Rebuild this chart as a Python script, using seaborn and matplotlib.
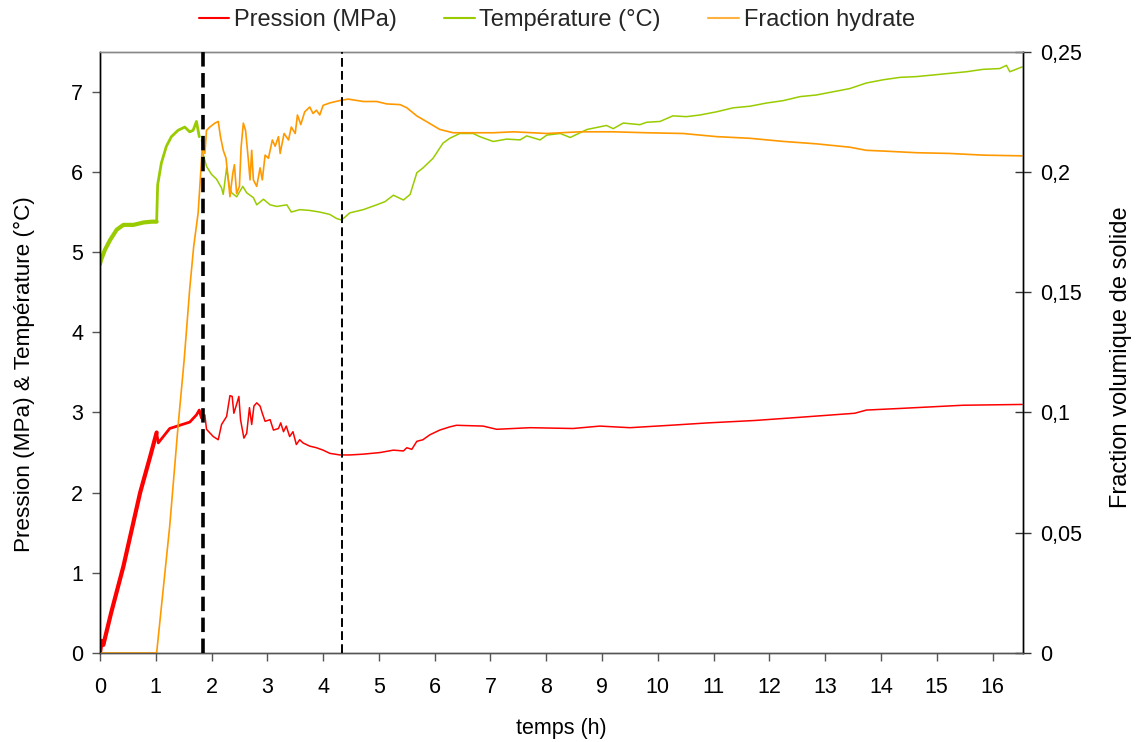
import numpy as np
import pandas as pd
import matplotlib
matplotlib.use("Agg")
import matplotlib.pyplot as plt
from matplotlib.lines import Line2D
from matplotlib.ticker import FuncFormatter
import seaborn as sns

# ---------------- data ----------------
pression_t = [0, 0.03, 0.06, 0.2, 0.42, 0.72, 0.9, 1.016, 1.045, 1.25,
              1.43, 1.61, 1.73, 1.78, 1.82, 1.88, 1.91, 2.03, 2.12, 2.18,
              2.27, 2.33, 2.37, 2.40, 2.44, 2.49, 2.52, 2.58, 2.63, 2.68,
              2.72, 2.76, 2.81, 2.87, 2.91, 2.96, 3.05, 3.11, 3.20, 3.24,
              3.29, 3.34, 3.40, 3.46, 3.52, 3.58, 3.64, 3.76, 3.88, 4.00,
              4.12, 4.30, 4.48, 4.72, 5.02, 5.26, 5.44, 5.50, 5.59, 5.68,
              5.79, 5.91, 6.09, 6.27, 6.39, 6.87, 7.11, 7.71, 8.48, 8.96,
              9.50, 10.22, 10.90, 11.74, 12.55, 13.53, 13.74, 14.34, 15.47, 16.53]
pression = [0, 0.15, 0.1, 0.5, 1.08, 2.0, 2.45, 2.75, 2.62, 2.80,
            2.84, 2.88, 2.97, 3.03, 2.93, 2.97, 2.79, 2.70, 2.66, 2.85,
            2.95, 3.21, 3.20, 2.99, 3.08, 3.20, 2.91, 2.68, 2.74, 3.06,
            2.85, 3.08, 3.12, 3.08, 2.99, 2.89, 2.91, 2.78, 2.80, 2.87,
            2.76, 2.83, 2.70, 2.76, 2.60, 2.66, 2.62, 2.58, 2.56, 2.53,
            2.49, 2.47, 2.47, 2.48, 2.50, 2.53, 2.52, 2.56, 2.54, 2.64,
            2.66, 2.72, 2.78, 2.82, 2.84, 2.83, 2.79, 2.81, 2.80, 2.83,
            2.81, 2.84, 2.87, 2.90, 2.94, 2.99, 3.03, 3.05, 3.09, 3.10]

temperature_t = [0, 0.018, 0.09, 0.18, 0.30, 0.42, 0.60, 0.78, 0.93, 1.016,
                 1.034, 1.10, 1.19, 1.28, 1.40, 1.52, 1.61, 1.67, 1.73, 1.78,
                 1.82, 1.85, 1.91, 2.00, 2.09, 2.18, 2.21, 2.27, 2.32, 2.36,
                 2.45, 2.56, 2.63, 2.75, 2.81, 2.93, 3.05, 3.17, 3.35, 3.43,
                 3.58, 3.76, 3.94, 4.12, 4.24, 4.33, 4.48, 4.72, 4.96, 5.11,
                 5.26, 5.44, 5.56, 5.68, 5.79, 5.97, 6.15, 6.27, 6.45, 6.69,
                 6.81, 7.05, 7.29, 7.53, 7.65, 7.89, 8.01, 8.25, 8.43, 8.73,
                 9.08, 9.20, 9.38, 9.68, 9.80, 10.04, 10.27, 10.51, 10.75, 11.05,
                 11.35, 11.65, 11.95, 12.25, 12.55, 12.84, 13.14, 13.44, 13.74, 14.04,
                 14.34, 14.64, 14.94, 15.23, 15.53, 15.83, 16.13, 16.25, 16.31, 16.53]
temperature = [4.85, 4.90, 5.03, 5.15, 5.28, 5.34, 5.34, 5.37, 5.38, 5.38,
               5.84, 6.11, 6.32, 6.44, 6.52, 6.56, 6.50, 6.52, 6.63, 6.44,
               6.40, 6.22, 6.07, 5.97, 5.91, 5.80, 5.72, 6.05, 5.82, 5.74,
               5.69, 5.82, 5.74, 5.68, 5.59, 5.66, 5.59, 5.57, 5.59, 5.50,
               5.53, 5.52, 5.50, 5.47, 5.42, 5.40, 5.49, 5.53, 5.59, 5.63,
               5.71, 5.65, 5.72, 5.99, 6.05, 6.17, 6.36, 6.42, 6.48, 6.48,
               6.44, 6.38, 6.41, 6.40, 6.45, 6.40, 6.46, 6.48, 6.43, 6.53,
               6.58, 6.54, 6.61, 6.59, 6.62, 6.63, 6.70, 6.69, 6.71, 6.75,
               6.80, 6.82, 6.86, 6.89, 6.94, 6.96, 7.00, 7.04, 7.11, 7.15,
               7.18, 7.19, 7.21, 7.23, 7.25, 7.28, 7.29, 7.33, 7.25, 7.31]

fraction_t = [0, 1.016, 1.25, 1.40, 1.51, 1.61, 1.68, 1.76, 1.84, 1.88,
              1.91, 1.97, 2.06, 2.12, 2.16, 2.21, 2.26, 2.30, 2.33, 2.38,
              2.41, 2.45, 2.50, 2.53, 2.57, 2.61, 2.66, 2.69, 2.72, 2.75,
              2.81, 2.87, 2.91, 2.96, 3.02, 3.09, 3.14, 3.20, 3.23, 3.30,
              3.38, 3.43, 3.50, 3.54, 3.60, 3.67, 3.76, 3.82, 3.88, 3.94,
              4.00, 4.12, 4.30, 4.45, 4.72, 4.96, 5.14, 5.38, 5.50, 5.68,
              5.85, 6.09, 6.33, 6.81, 7.05, 7.41, 8.01, 8.60, 9.20, 9.80,
              10.45, 11.05, 11.65, 12.25, 12.84, 13.44, 13.74, 14.04, 14.64, 15.23,
              15.83, 16.53]
fraction = [0, 0, 0.0527, 0.0943, 0.1220, 0.1517, 0.1690, 0.1830, 0.2120, 0.2077,
            0.2173, 0.2187, 0.2203, 0.2210, 0.2147, 0.2090, 0.2057, 0.1967, 0.1897, 0.1993,
            0.2030, 0.1910, 0.1940, 0.2103, 0.2203, 0.2173, 0.2050, 0.1967, 0.2090, 0.1967,
            0.1940, 0.2017, 0.1967, 0.2070, 0.2057, 0.2133, 0.2107, 0.2147, 0.2077, 0.2160,
            0.2133, 0.2187, 0.2160, 0.2237, 0.2197, 0.2250, 0.2270, 0.2243, 0.2257, 0.2237,
            0.2277, 0.2287, 0.2297, 0.2303, 0.2293, 0.2293, 0.2283, 0.2280, 0.2267, 0.2233,
            0.2210, 0.2177, 0.2163, 0.2163, 0.2163, 0.2167, 0.2160, 0.2167, 0.2167, 0.2163,
            0.2160, 0.2147, 0.2140, 0.2127, 0.2117, 0.2103, 0.2090, 0.2087, 0.2080, 0.2077,
            0.2070, 0.2067]

phase_marks = [1.84, 4.33]
x_ticks = list(range(0, 17))
left_ticks = list(range(0, 8))
right_ticks = [0, 0.05, 0.10, 0.15, 0.20, 0.25]
series_labels = ["Pression (MPa)", "Température (°C)", "Fraction hydrate"]

# ---------------- style ----------------
sns.set_theme(style="white")
plt.rcParams["font.family"] = ["Liberation Sans", "DejaVu Sans"]

RED = "#FF0000"
GREEN = "#99CC00"
ORANGE = "#FF9900"
FS_TICK = 15.5

fig = plt.figure(figsize=(11.36, 7.42), dpi=100)
ax = fig.add_axes([0.088, 0.12, 0.8127, 0.8103])
ax2 = ax.twinx()

dfp = pd.DataFrame({"t": pression_t, "v": pression})
dft = pd.DataFrame({"t": temperature_t, "v": temperature})
dff = pd.DataFrame({"t": fraction_t, "v": fraction})

# noisy early phase drawn thicker (measurement noise band), rest thin
for df, col, cut in [(dft, GREEN, 1.80), (dfp, RED, 1.84)]:
    early = df[df.t <= 1.016]
    mid = df[(df.t >= 1.016) & (df.t <= cut)]
    late = df[df.t >= cut]
    sns.lineplot(data=early, x="t", y="v", ax=ax, color=col, lw=3.0,
                 estimator=None, sort=False, legend=False)
    sns.lineplot(data=mid, x="t", y="v", ax=ax, color=col, lw=2.0,
                 estimator=None, sort=False, legend=False)
    sns.lineplot(data=late, x="t", y="v", ax=ax, color=col, lw=1.1,
                 estimator=None, sort=False, legend=False)

sns.lineplot(data=dff, x="t", y="v", ax=ax2, color=ORANGE, lw=1.2,
             estimator=None, sort=False, legend=False)

# vertical phase markers
ax2.axvline(phase_marks[0], color="black", lw=2.6, ls=(0, (4, 1.8)), zorder=5)
ax2.axvline(phase_marks[1], color="black", lw=1.4, ls=(0, (4.5, 2.2)), zorder=5)

# axes limits & ticks
ax.set_xlim(0, 16.55)
ax.set_ylim(0, 7.5)
ax2.set_ylim(0, 0.25)
ax.set_xticks(x_ticks)
ax.set_yticks(left_ticks)
ax2.set_yticks(right_ticks)
ax2.yaxis.set_major_formatter(FuncFormatter(lambda v, p: f"{v:g}".replace(".", ",")))

ax.tick_params(axis="x", bottom=True, direction="out", length=6, width=1,
               color="#555555", labelsize=FS_TICK, pad=11, labelcolor="black")
ax.tick_params(axis="y", left=True, direction="out", length=6, width=1,
               color="#555555", labelsize=FS_TICK, pad=6, labelcolor="black")
ax2.tick_params(axis="y", right=True, direction="inout", length=12, width=1,
                color="#333333", labelsize=FS_TICK, pad=6, labelcolor="black")

ax.set_xlabel("temps (h)", fontsize=15.5, labelpad=15, color="black")
ax.set_ylabel("Pression (MPa) & Température (°C)", fontsize=16.2, labelpad=26,
              color="black")
ax2.set_ylabel("Fraction volumique de solide", fontsize=17, labelpad=20,
               rotation=90, color="black")
ax.yaxis.label.set_y(0.4635)
ax2.yaxis.label.set_y(0.492)

for a in (ax, ax2):
    a.grid(False)
    a.spines["top"].set_color("#888888")
    a.spines["bottom"].set_color("#555555")
    a.spines["left"].set_color("black")
    a.spines["right"].set_color("black")
    for s in a.spines.values():
        s.set_linewidth(1.0)
ax.patch.set_visible(False)

handles = [Line2D([], [], color=RED, lw=1.5),
           Line2D([], [], color=GREEN, lw=1.5),
           Line2D([], [], color="#FFB240", lw=1.5)]
fig.legend(handles, series_labels, loc="center", bbox_to_anchor=(0.49, 0.973),
           ncol=3, frameon=False, fontsize=17, handlelength=1.3,
           handletextpad=0.2, columnspacing=2.0)

fig.savefig("out.png", dpi=100)
